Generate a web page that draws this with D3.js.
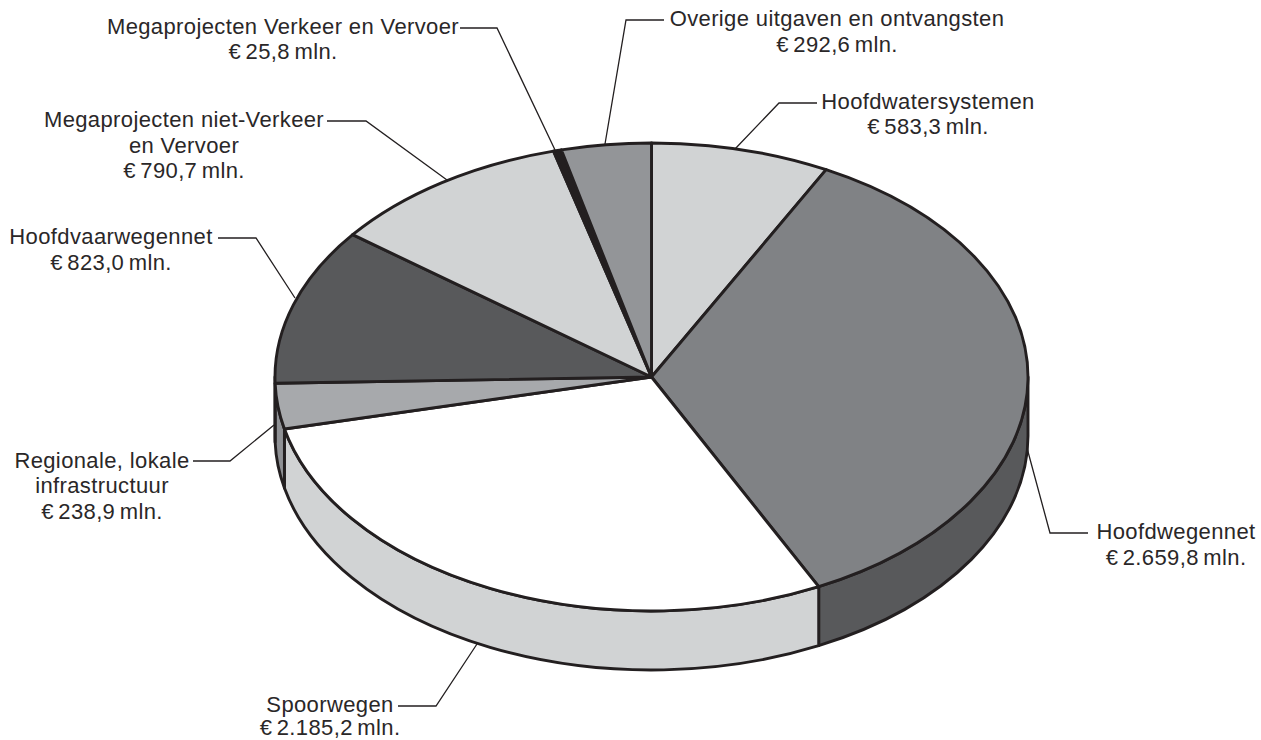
<!DOCTYPE html>
<html><head><meta charset="utf-8"><script src="https://cdn.jsdelivr.net/npm/d3@7"></script>
<style>html,body{margin:0;background:#fff}svg{display:block}text{font-family:"Liberation Sans",Arial,sans-serif;font-size:22px;letter-spacing:.38px;fill:#2a2728}</style></head>
<body><svg width="1261" height="740"></svg>
<script>
const categories = ["Hoofdwatersystemen","Hoofdwegennet","Spoorwegen","Regionale, lokale infrastructuur","Hoofdvaarwegennet","Megaprojecten niet-Verkeer en Vervoer","Megaprojecten Verkeer en Vervoer","Overige uitgaven en ontvangsten"];
const values = [583.3,2659.8,2185.2,238.9,823.0,790.7,25.8,292.6];
const topColors = ["#d1d3d4","#808285","#ffffff","#a7a9ac","#58595b","#d1d3d4","#231f20","#939598"];
const wallColors = ["#d1d3d4","#58595b","#d1d3d4","#8f9195","#58595b","#d1d3d4","#231f20","#939598"];
const labelLines = [["Hoofdwatersystemen","€ 583,3 mln."],["Hoofdwegennet","€ 2.659,8 mln."],["Spoorwegen","€ 2.185,2 mln."],["Regionale, lokale","infrastructuur","€ 238,9 mln."],["Hoofdvaarwegennet","€ 823,0 mln."],["Megaprojecten niet-Verkeer","en Vervoer","€ 790,7 mln."],["Megaprojecten Verkeer en Vervoer","€ 25,8 mln."],["Overige uitgaven en ontvangsten","€ 292,6 mln."]];
// label layout: centre x, first baseline, line height, leader polyline
const labelPos = [
 {x:928,y:108.5,lh:25.7,line:[[817,103],[779,103],[735,149]]},
 {x:1176,y:539,lh:25.7,line:[[1088,533],[1050,533],[1027,448]]},
 {x:330,y:711.5,lh:23.5,line:[[398,706],[436,706],[477,644]]},
 {x:102,y:467.5,lh:25.7,line:[[193,461],[230,461],[274,425]]},
 {x:111,y:244,lh:25.7,line:[[218,238],[256,238],[295,298]]},
 {x:184,y:127,lh:25.7,line:[[327,121],[366,121],[447,180]]},
 {x:283,y:33.5,lh:25.7,line:[[460,28],[497,28],[556,152]]},
 {x:837,y:26,lh:25.7,line:[[664,20],[626,20],[605,144]]}
];
const cx=651.5, cy=377, rx=376.5, ry=234, depth=59, ink="#231f20";
const svg=d3.select("svg");
const arcs=d3.pie().sort(null).value(d=>d)(values);
const px=a=>cx+rx*Math.sin(a), py=a=>cy-ry*Math.cos(a);
const H=Math.PI/2, TH=3*Math.PI/2;
// side walls (front half only)
const walls=arcs.map((d,i)=>({a0:Math.max(d.startAngle,H),a1:Math.min(d.endAngle,TH),i})).filter(d=>d.a1>d.a0);
svg.append("g").selectAll("path").data(walls).join("path")
 .attr("d",d=>{
  const large=d.a1-d.a0>Math.PI?1:0;
  return `M${px(d.a0)},${py(d.a0)}A${rx},${ry} 0 ${large} 1 ${px(d.a1)},${py(d.a1)}`+
         `L${px(d.a1)},${py(d.a1)+depth}A${rx},${ry} 0 ${large} 0 ${px(d.a0)},${py(d.a0)+depth}Z`;})
 .attr("fill",d=>wallColors[d.i]).attr("stroke",ink).attr("stroke-width",2.9).attr("stroke-linejoin","round");
// top faces
svg.append("g").selectAll("path").data(arcs).join("path")
 .attr("d",d=>`M${cx},${cy}L${px(d.startAngle)},${py(d.startAngle)}A${rx},${ry} 0 ${d.endAngle-d.startAngle>Math.PI?1:0} 1 ${px(d.endAngle)},${py(d.endAngle)}Z`)
 .attr("fill",(d,i)=>topColors[i]).attr("stroke",ink).attr("stroke-width",2.9).attr("stroke-linejoin","round");
// leaders
const line=d3.line();
svg.append("g").selectAll("path").data(labelPos).join("path").attr("d",d=>line(d.line))
 .attr("fill","none").attr("stroke",ink).attr("stroke-width",1.3);
// labels
const g=svg.append("g").selectAll("text").data(labelLines).join("text").attr("text-anchor","middle");
g.each(function(lines,i){d3.select(this).selectAll("tspan").data(lines).join("tspan")
 .attr("x",labelPos[i].x).attr("y",(l,j)=>labelPos[i].y+j*labelPos[i].lh)
 .attr("word-spacing",l=>l[0]==="€"?"-2px":null).text(l=>l);});
</script></body></html>
